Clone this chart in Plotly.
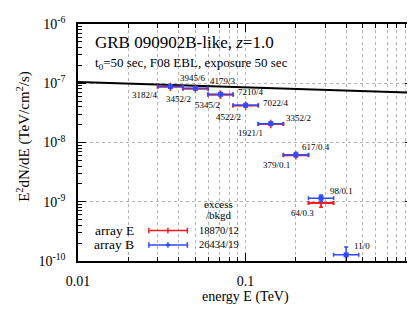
import math
import plotly.graph_objects as go

# ---------------- data ----------------
bin_center = [0.0356, 0.0502, 0.0710, 0.1002, 0.1416, 0.200, 0.2825, 0.399]
bin_lo = [0.0299, 0.0423, 0.0597, 0.0843, 0.1191, 0.1683, 0.2377, 0.3357]
bin_hi = [0.0423, 0.0597, 0.0843, 0.1191, 0.1683, 0.2377, 0.3357, 0.4742]

flux_B = [8.8e-8, 8.2e-8, 6.5e-8, 4.25e-8, 2.08e-8, 6.2e-9, 1.15e-9, 1.27e-10]
err_B = [2.5e-9, 2.5e-9, 2.2e-9, 1.8e-9, 1.0e-9, 4e-10, 1.5e-10, 4.5e-11]
flux_E = [8.7e-8, 8.1e-8, 6.4e-8, 4.2e-8, 2.05e-8, 6.1e-9, 9.5e-10]
err_E = [2.5e-9, 2.5e-9, 2.2e-9, 1.8e-9, 1.0e-9, 4e-10, 1.4e-10]

labels_E = ["3182/4", "3452/2", "5345/2", "4522/2", "1921/1", "379/0.1", "64/0.3"]
labels_B = ["3945/6", "4179/3", "7210/4", "7022/4", "3352/2", "617/0.4", "98/0.1", "11/0"]

model_E = [0.01, 1.0]
model_flux = [1.05e-7, 6.9e-8]

legend_E = "18870/12"
legend_B = "26434/19"

x_ticks = [0.01, 0.1, 1]
x_ticktext = ["0.01", "0.1", "1"]
y_ticks = [1e-10, 1e-9, 1e-8, 1e-7, 1e-6]
y_ticktext = ["10<sup>-10</sup>", "10<sup>-9</sup>", "10<sup>-8</sup>", "10<sup>-7</sup>", "10<sup>-6</sup>"]

# ---------------- styles ----------------
FONT = "Liberation Serif"
RED = "#ff1a1a"
BLUE = "#2f4bff"

# label offsets in px (xshift, yshift)
off_E = [(-25, -8), (-17, -10), (-13, -10), (-17, -11), (-20, -9), (-19, -10), (-19, -10)]
off_B = [(23, 9), (28, 7), (30, 2), (30, 2), (28, 6), (20, 8), (20, 7), (16, 9)]

def xerr(n):
    plus = [bin_hi[i] - bin_center[i] for i in range(n)]
    minus = [bin_center[i] - bin_lo[i] for i in range(n)]
    return plus, minus

fig = go.Figure()

fig.add_trace(go.Scatter(x=model_E, y=model_flux, mode="lines",
                         line=dict(color="black", width=2), showlegend=False))

pE, mE = xerr(len(flux_E))
fig.add_trace(go.Scatter(
    x=bin_center[:len(flux_E)], y=flux_E, mode="markers", showlegend=False,
    marker=dict(symbol="line-ns", size=6, color=RED, line=dict(color=RED, width=1.5)),
    error_x=dict(type="data", array=pE, arrayminus=mE, color=RED, thickness=2, width=2),
    error_y=dict(type="data", array=err_E, color=RED, thickness=1.5, width=2),
))

pB, mB = xerr(len(flux_B))
fig.add_trace(go.Scatter(
    x=bin_center, y=flux_B, mode="markers", showlegend=False,
    marker=dict(symbol="square", size=5, color=BLUE),
    error_x=dict(type="data", array=pB, arrayminus=mB, color=BLUE, thickness=1.5, width=2),
    error_y=dict(type="data", array=err_B, color=BLUE, thickness=1.5, width=2),
))

LBL = dict(family=FONT, size=9, color="black")
ann = []
for i, t in enumerate(labels_E):
    ann.append(dict(x=math.log10(bin_center[i]), y=math.log10(flux_E[i]), xref="x", yref="y",
                    text=t, showarrow=False, xshift=off_E[i][0], yshift=off_E[i][1], font=LBL))
for i, t in enumerate(labels_B):
    ann.append(dict(x=math.log10(bin_center[i]), y=math.log10(flux_B[i]), xref="x", yref="y",
                    text=t, showarrow=False, xshift=off_B[i][0], yshift=off_B[i][1], font=LBL))

def txt(x, y, t, size, xanchor="center", angle=0):
    ann.append(dict(x=x, y=y, xref="paper", yref="paper", xanchor=xanchor, yanchor="middle",
                    textangle=angle, text=t, showarrow=False, borderpad=0,
                    font=dict(family=FONT, size=size, color="black")))

# titles (centred on the reference's text extents)
txt(0.3186, 0.921, "GRB 090902B-like, <i>z</i>=1.0", 17)
txt(0.339, 0.834, "t<sub>0</sub>=50 sec, F08 EBL, exposure 50 sec", 13)
# axis titles
txt(0.5, -0.1535, "energy E (TeV)", 14)
txt(-0.165, 0.527, "E<sup>2</sup>dN/dE (TeV/cm<sup>2</sup>/s)", 15, angle=-90)
# legend text
txt(0.419, 0.242, "excess", 11)
txt(0.422, 0.193, "/bkgd", 11)
txt(0.108, 0.1286, "array E", 13.5)
txt(0.108, 0.0676, "array B", 13.5)
txt(0.422, 0.1286, legend_E, 10.5)
txt(0.422, 0.0676, legend_B, 10.5)

# legend samples (shapes in paper coords)
shapes = []
def sample(yp, color, w):
    x0, x1, xm = 0.2115, 0.3265, 0.2684
    cap = 0.012
    shapes.append(dict(type="line", xref="paper", yref="paper", x0=x0, x1=x1, y0=yp, y1=yp,
                       line=dict(color=color, width=w)))
    for xx in (x0, x1, xm):
        shapes.append(dict(type="line", xref="paper", yref="paper", x0=xx, x1=xx, y0=yp - cap, y1=yp + cap,
                           line=dict(color=color, width=1.5)))
sample(0.1286, RED, 1.5)
sample(0.0676, BLUE, 1.5)
shapes.append(dict(type="rect", xref="paper", yref="paper", x0=0.262, x1=0.275, y0=0.0626, y1=0.0726,
                   fillcolor=BLUE, line=dict(width=0)))

grid = dict(showgrid=True, gridcolor="#b4b4b4", griddash="dot", gridwidth=1)

fig.update_layout(
    width=415, height=312,
    margin=dict(l=70, r=6, t=12, b=59),
    paper_bgcolor="white", plot_bgcolor="white",
    showlegend=False,
    annotations=ann, shapes=shapes,
    font=dict(family=FONT, size=14, color="black"),
    xaxis=dict(type="log", range=[-2, 0], tickvals=x_ticks, ticktext=x_ticktext,
               ticks="inside", ticklen=8, tickwidth=1, tickcolor="black", mirror="allticks",
               showline=True, linecolor="black", linewidth=1.5, ticklabelstandoff=6,
               tickfont=dict(family=FONT, size=14, color="black"),
               minor=dict(tickvals=[a * 10 ** d for d in (-2, -1) for a in range(2, 10)],
                          ticks="inside", ticklen=4, tickcolor="black", showgrid=True,
                          gridcolor="#b4b4b4", griddash="dot", gridwidth=1),
               zeroline=False, **grid),
    yaxis=dict(type="log", range=[-10, -6], tickvals=y_ticks, ticktext=y_ticktext,
               ticks="inside", ticklen=8, tickwidth=1, tickcolor="black", mirror="allticks",
               showline=True, linecolor="black", linewidth=1.5, ticklabelstandoff=8,
               tickfont=dict(family=FONT, size=14, color="black"),
               minor=dict(tickvals=[a * 10 ** d for d in (-10, -9, -8, -7) for a in range(2, 10)],
                          ticks="inside", ticklen=4, tickcolor="black", showgrid=False),
               zeroline=False, **grid),
)

fig.write_html("out.html")
